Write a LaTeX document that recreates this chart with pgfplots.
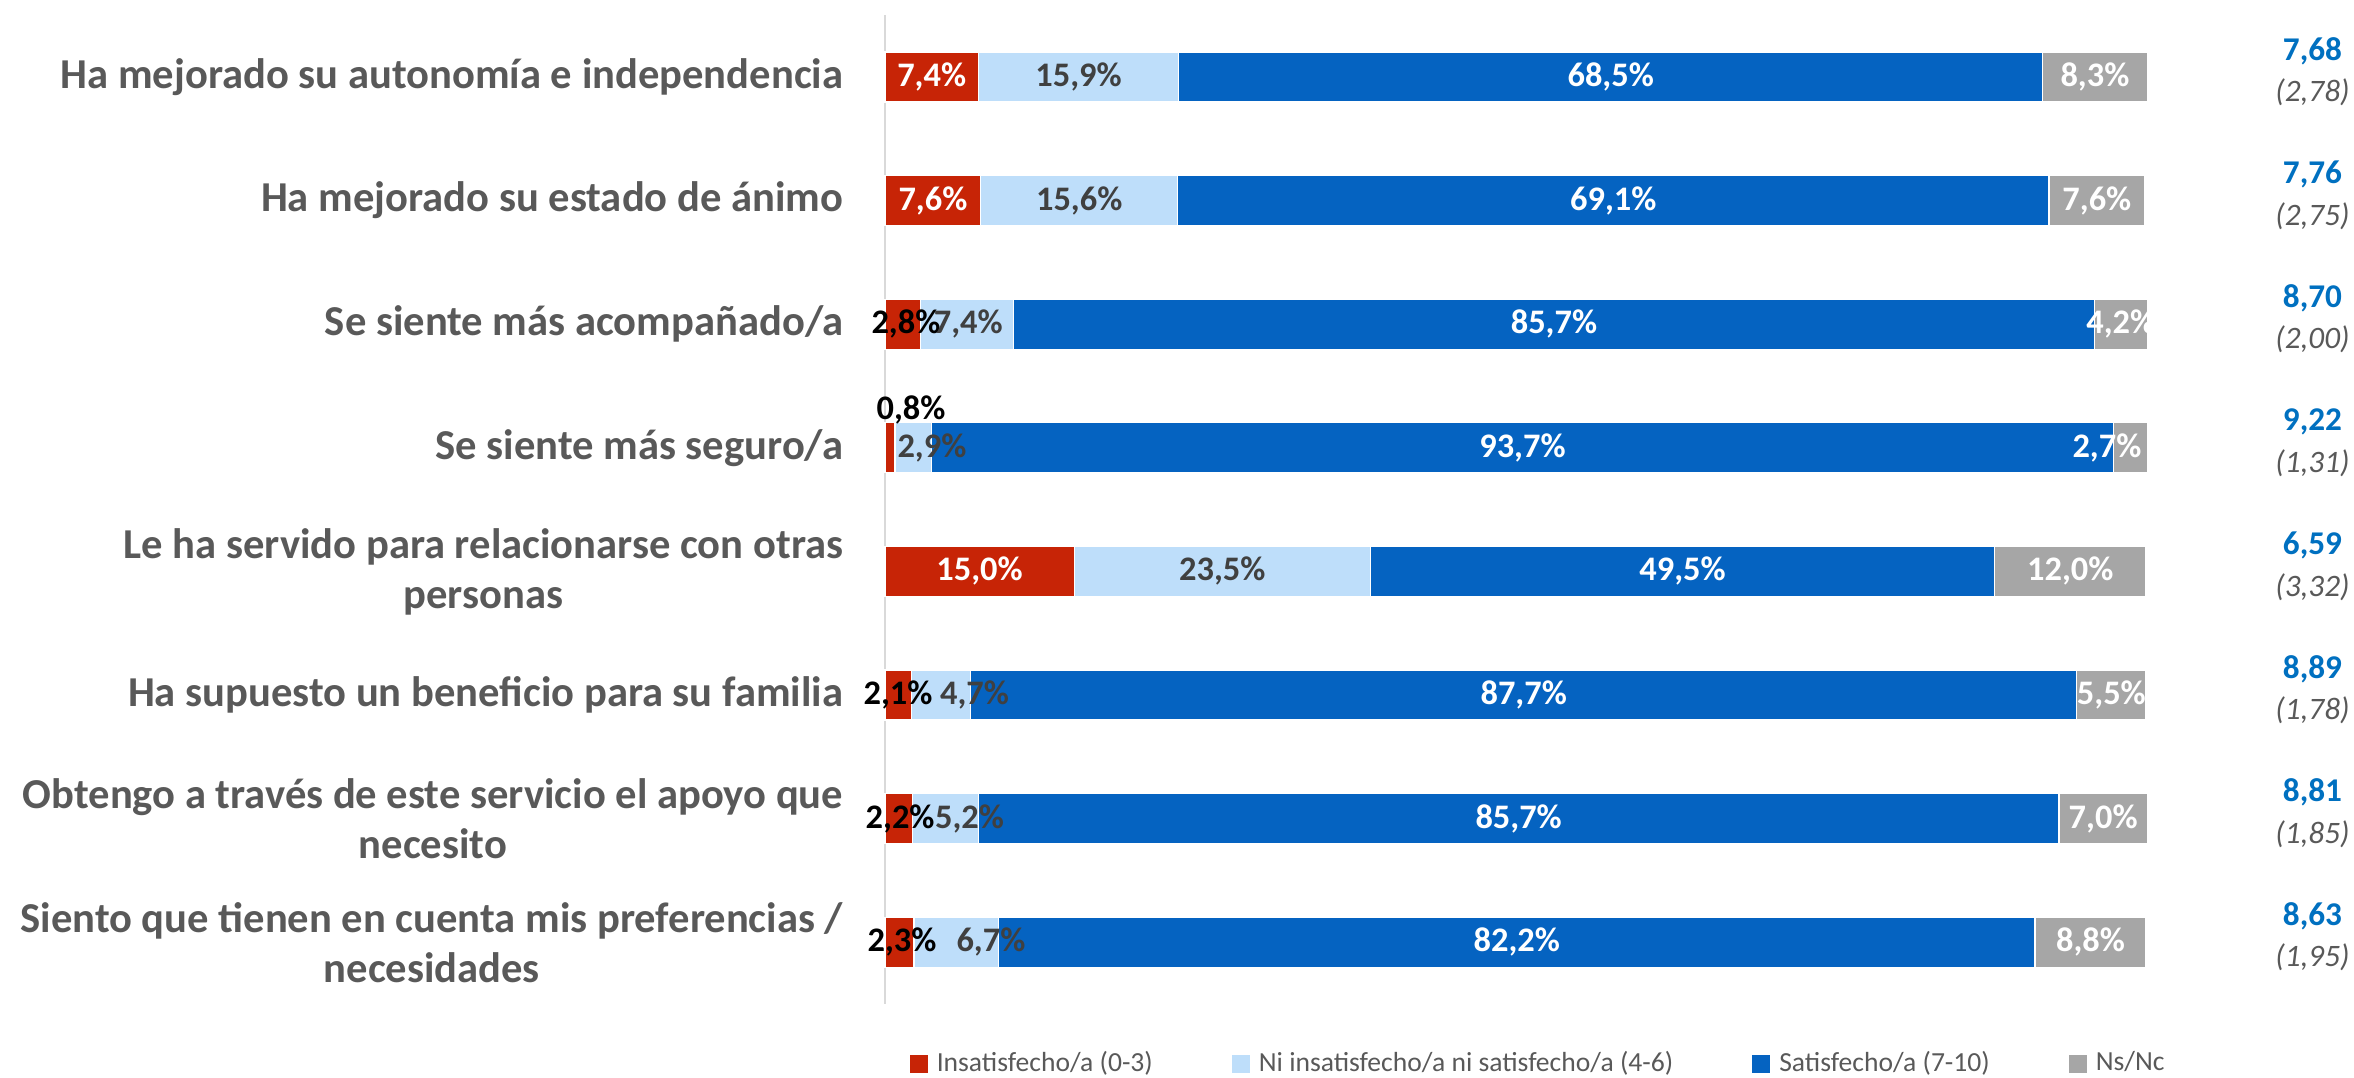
\documentclass[border=0pt]{standalone}
\usepackage{fontspec}
\setmainfont{Carlito}
\usepackage{pgfplots}
\pgfplotsset{compat=1.18}
\usepackage{pgfplotstable}

\definecolor{insat}{RGB}{199,36,6}
\definecolor{neutral}{RGB}{190,222,250}
\definecolor{sat}{RGB}{5,99,193}
\definecolor{nsnc}{RGB}{166,166,166}
\definecolor{meanblue}{RGB}{0,112,192}
\definecolor{txtgray}{RGB}{89,89,89}
\definecolor{lbltxt}{RGB}{64,64,64}
\definecolor{axgray}{RGB}{217,217,217}

% share of answers per item, rows top to bottom
\pgfplotstableread{
row ins  ni   sat  ns
0   7.4  15.9 68.5 8.3
1   7.6  15.6 69.1 7.6
2   2.8  7.4  85.7 4.2
3   0.8  2.9  93.7 2.7
4   15.0 23.5 49.5 12.0
5   2.1  4.7  87.7 5.5
6   2.2  5.2  85.7 7.0
7   2.3  6.7  82.2 8.8
}\datatable

\tikzset{
  lab/.style={font=\bfseries\fontsize{8.6}{10}\selectfont, inner sep=0pt},
  mn/.style={font=\bfseries\fontsize{8.3}{10}\selectfont, text=meanblue, inner sep=0pt},
  sd/.style={font=\itshape\fontsize{7.8}{9}\selectfont, text=txtgray, inner sep=0pt},
}
\pgfplotsset{
  frame/.style={
    at={(221.25pt,18.5pt)}, anchor=south west,
    scale only axis, width=315.25pt, height=247.2pt,
    xmin=0, xmax=100, ymin=-0.5, ymax=7.5,
    y dir=reverse, enlargelimits=false, clip=false,
  },
}

\begin{document}
\begin{tikzpicture}
\useasboundingbox (0,0) rectangle (588.5pt,269.5pt);
\begin{axis}[
  frame,
  xbar stacked, bar width=0.405,
  axis x line=none,
  axis y line*=left,
  y axis line style={draw=axgray, line width=0.5pt},
  xtick=\empty,
  ytick={0,...,7},
  major tick length=0pt,
  yticklabels={
    Ha mejorado su autonomía e independencia,
    Ha mejorado su estado de ánimo,
    Se siente más acompañado/a,
    Se siente más seguro/a,
    {Le ha servido para relacionarse con otras\\personas},
    Ha supuesto un beneficio para su familia,
    {Obtengo a través de este servicio el apoyo que\\necesito},
    {Siento que tienen en cuenta mis preferencias /\\necesidades},
  },
  yticklabel style={inner sep=0pt, xshift=-10.25pt, align=center, text=txtgray,
    font=\bfseries\fontsize{10.65}{12.5}\selectfont},
  legend columns=4,
  legend style={at={(0.019,-0.0607)}, anchor=west, draw=none, fill=none,
    inner sep=0pt, text=txtgray, font=\fontsize{6.9}{8}\selectfont,
    /tikz/every odd column/.append style={column sep=1.5pt},
    /tikz/every even column/.append style={column sep=19pt},
    nodes={inner sep=0.75pt}},
  legend image code/.code={\fill[#1,draw=none] (0pt,-2.25pt) rectangle (4.5pt,2.25pt);},
]
\addplot[fill=insat, draw=white, line width=0.3pt] table[x=ins, y=row] {\datatable};
\addplot[fill=neutral, draw=white, line width=0.3pt] table[x=ni, y=row] {\datatable};
\addplot[fill=sat, draw=white, line width=0.3pt] table[x=sat, y=row] {\datatable};
\addplot[fill=nsnc, draw=white, line width=0.3pt] table[x=ns, y=row] {\datatable};
\legend{Insatisfecho/a (0-3), Ni insatisfecho/a ni satisfecho/a (4-6), Satisfecho/a (7-10), Ns/Nc}
\end{axis}

% same frame again, only for the texts, so that they lie on the bars
\begin{axis}[frame, hide axis]
\node[lab, text=white] at (axis cs:3.7,0) {7,4\%};
\node[lab, text=lbltxt] at (axis cs:15.35,0) {15,9\%};
\node[lab, text=white] at (axis cs:57.55,0) {68,5\%};
\node[lab, text=white] at (axis cs:95.95,0) {8,3\%};

\node[lab, text=white] at (axis cs:3.8,1) {7,6\%};
\node[lab, text=lbltxt] at (axis cs:15.4,1) {15,6\%};
\node[lab, text=white] at (axis cs:57.75,1) {69,1\%};
\node[lab, text=white] at (axis cs:96.1,1) {7,6\%};

\node[lab, text=black] at (axis cs:1.66,2) {2,8\%};
\node[lab, text=lbltxt] at (axis cs:6.6,2) {7,4\%};
\node[lab, text=white] at (axis cs:53.05,2) {85,7\%};
\node[lab, text=white] at (axis cs:98.0,2) {4,2\%};

\node[lab, text=black] at (axis cs:2.06,2.69) {0,8\%};
\node[lab, text=lbltxt] at (axis cs:3.72,3) {2,9\%};
\node[lab, text=white] at (axis cs:50.55,3) {93,7\%};
\node[lab, text=white] at (axis cs:96.9,3) {2,7\%};

\node[lab, text=white] at (axis cs:7.5,4) {15,0\%};
\node[lab, text=lbltxt] at (axis cs:26.75,4) {23,5\%};
\node[lab, text=white] at (axis cs:63.25,4) {49,5\%};
\node[lab, text=white] at (axis cs:94.0,4) {12,0\%};

\node[lab, text=black] at (axis cs:1.03,5) {2,1\%};
\node[lab, text=lbltxt] at (axis cs:7.1,5) {4,7\%};
\node[lab, text=white] at (axis cs:50.65,5) {87,7\%};
\node[lab, text=white] at (axis cs:97.25,5) {5,5\%};

\node[lab, text=black] at (axis cs:1.2,6) {2,2\%};
\node[lab, text=lbltxt] at (axis cs:6.7,6) {5,2\%};
\node[lab, text=white] at (axis cs:50.25,6) {85,7\%};
\node[lab, text=white] at (axis cs:96.6,6) {7,0\%};

\node[lab, text=black] at (axis cs:1.35,7) {2,3\%};
\node[lab, text=lbltxt] at (axis cs:8.4,7) {6,7\%};
\node[lab, text=white] at (axis cs:50.1,7) {82,2\%};
\node[lab, text=white] at (axis cs:95.6,7) {8,8\%};

% mean and (sd) per item
\node[mn] at (axis cs:113.2,-0.21) {7,68};  \node[sd] at (axis cs:113.2,0.125) {(2,78)};
\node[mn] at (axis cs:113.2,0.79) {7,76};   \node[sd] at (axis cs:113.2,1.125) {(2,75)};
\node[mn] at (axis cs:113.2,1.79) {8,70};   \node[sd] at (axis cs:113.2,2.125) {(2,00)};
\node[mn] at (axis cs:113.2,2.79) {9,22};   \node[sd] at (axis cs:113.2,3.125) {(1,31)};
\node[mn] at (axis cs:113.2,3.79) {6,59};   \node[sd] at (axis cs:113.2,4.125) {(3,32)};
\node[mn] at (axis cs:113.2,4.79) {8,89};   \node[sd] at (axis cs:113.2,5.125) {(1,78)};
\node[mn] at (axis cs:113.2,5.79) {8,81};   \node[sd] at (axis cs:113.2,6.125) {(1,85)};
\node[mn] at (axis cs:113.2,6.79) {8,63};   \node[sd] at (axis cs:113.2,7.125) {(1,95)};
\end{axis}
\end{tikzpicture}
\end{document}
